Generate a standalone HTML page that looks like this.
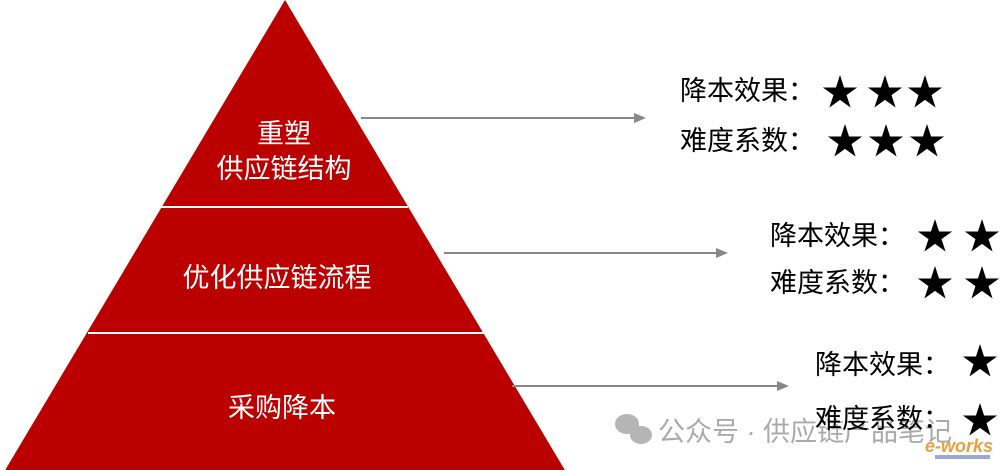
<!DOCTYPE html>
<html><head><meta charset="utf-8"><style>
html,body{margin:0;padding:0;background:#fff;}
svg{display:block;}
text{font-family:"Liberation Sans","Noto Sans CJK SC",sans-serif;}
</style></head><body>
<svg width="1000" height="470" viewBox="0 0 1000 470" xmlns="http://www.w3.org/2000/svg">
<defs>
<polygon id="st" points="0,-1 0.225,-0.309 0.951,-0.309 0.363,0.118 0.588,0.809 0,0.382 -0.588,0.809 -0.363,0.118 -0.951,-0.309 -0.225,-0.309" fill="#000"/>
</defs>
<polygon points="285,0 4,472 566,472" fill="#bb0000"/>
<line x1="161" y1="207" x2="408" y2="207" stroke="#fff" stroke-width="2"/>
<line x1="88" y1="333" x2="486" y2="333" stroke="#fff" stroke-width="2"/>
<g fill="#fff" font-size="27" text-anchor="middle">
<text x="284" y="143">重塑</text>
<text x="284" y="178">供应链结构</text>
<text x="277" y="287">优化供应链流程</text>
<text x="282" y="417">采购降本</text>
</g>
<g stroke="#888" stroke-width="2">
<line x1="361" y1="118" x2="636" y2="118"/>
<line x1="444" y1="253" x2="718" y2="253"/>
<line x1="512" y1="386" x2="779" y2="386"/>
</g>
<g fill="#888">
<polygon points="646,118 634,113 634,123"/>
<polygon points="728,253 716,248 716,258"/>
<polygon points="789,386 777,381 777,391"/>
</g>
<g fill="#b5b5b5">
<ellipse cx="627" cy="424" rx="12" ry="10"/>
<ellipse cx="641" cy="435" rx="11" ry="9"/>
</g>
<text x="658" y="441" font-size="27" fill="#aaa">公众号 · 供应链产品笔记</text>
<g font-size="27" fill="#000">
<text x="680" y="100">降本效果：</text>
<text x="680" y="150">难度系数：</text>
<text x="770" y="245">降本效果：</text>
<text x="770" y="292">难度系数：</text>
<text x="815" y="374">降本效果：</text>
<text x="815" y="428">难度系数：</text>
</g>
<g>
<use href="#st" transform="translate(840,93) scale(18)"/>
<use href="#st" transform="translate(885,93) scale(18)"/>
<use href="#st" transform="translate(925,93) scale(18)"/>
<use href="#st" transform="translate(845,142) scale(18)"/>
<use href="#st" transform="translate(886,142) scale(18)"/>
<use href="#st" transform="translate(927,142) scale(18)"/>
<use href="#st" transform="translate(935,237) scale(18)"/>
<use href="#st" transform="translate(982,237) scale(18)"/>
<use href="#st" transform="translate(935,284) scale(18)"/>
<use href="#st" transform="translate(982,284) scale(18)"/>
<use href="#st" transform="translate(980,362) scale(18)"/>
<use href="#st" transform="translate(980,421) scale(18)"/>
</g>
<rect x="935" y="455" width="55" height="4" fill="#9aa8d8"/>
<text x="925" y="452" font-size="18" font-style="italic" font-weight="bold" fill="#e9a040">e-works</text>
</svg>
</body></html>
